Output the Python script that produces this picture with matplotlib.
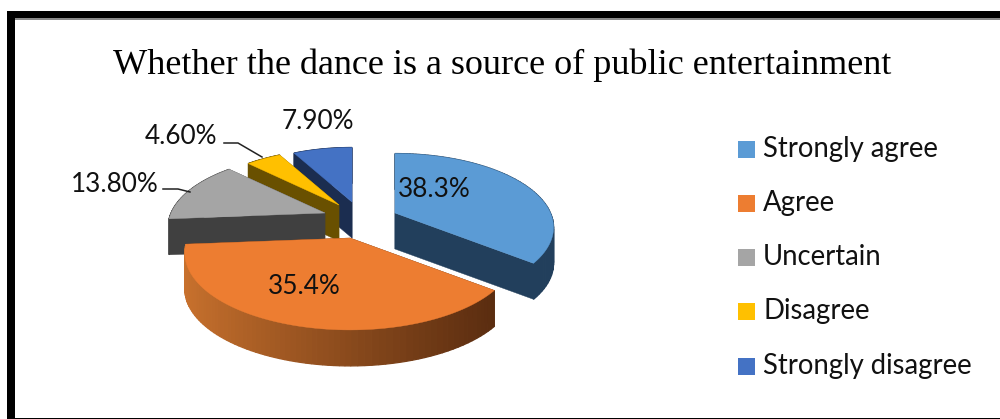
"""
Exploded 3D-style pie: whether the dance is a source of public entertainment
"""
import numpy as np
import matplotlib
matplotlib.use('Agg')
import matplotlib.pyplot as plt
from matplotlib.patches import Polygon, Rectangle
from matplotlib.colors import to_rgb

categories = ['Strongly agree', 'Agree', 'Uncertain', 'Disagree', 'Strongly disagree']
values = [38.3, 35.4, 13.8, 4.6, 7.9]
value_labels = ['38.3%', '35.4%', '13.80%', '4.60%', '7.90%']
top_colors = ['#5B9BD5', '#ED7D31', '#A5A5A5', '#FFC000', '#4472C4']
wall_colors = ['#223F5C', '#5B2D10', '#404040', '#695000', '#1B2D50']

# where each exploded slice has its tip, and a radius tweak per slice
tips = [(395, 213), (350, 238), (325, 213), (339, 205), (352, 202)]
radius_scale = [0.96, 1.0, 0.95, 0.9, 0.88]
label_pos = [(434, 189), (304, 286), (115, 184), (181, 136), (318, 121)]
legend_y = [149, 203, 257, 311, 366]

RX = 162
RY = 74
PERSP = 0.195
DEPTH = 36
SKEW = 14


def project(tip, theta, scale=1.0):
    """Angle in degrees clockwise from the back of the pie to a point on the rim."""
    rad = np.radians(theta)
    # the right half of the pie leans towards the back
    t = np.radians(theta - np.where(theta < 180, SKEW * np.sin(rad), 0))
    d = 1 + PERSP * np.cos(t)
    return (tip[0] + scale * RX * np.sin(t) / d,
            tip[1] - scale * RY * np.cos(t) / d)


def draw_slice(ax, i, start, end):
    tip = tips[i]
    angles = np.linspace(start, end, 80)
    x, y = project(tip, angles, radius_scale[i])
    wall = wall_colors[i]

    # cut faces
    for j in (0, -1):
        quad = [tip, (x[j], y[j]), (x[j], y[j] + DEPTH), (tip[0], tip[1] + DEPTH)]
        ax.add_patch(Polygon(quad, closed=True, fc=wall, ec=wall, lw=0.3))

    # rim, the orange one fades from left to right
    for j in range(len(x) - 1):
        c = wall
        if i == 1:
            f = (x[j] - x.min()) / (x.max() - x.min())
            left = np.array(to_rgb('#C8712D'))
            right = np.array(to_rgb('#5B2D10'))
            c = tuple(left + (right - left) * f ** 0.9)
        quad = [(x[j], y[j]), (x[j + 1], y[j + 1]),
                (x[j + 1], y[j + 1] + DEPTH), (x[j], y[j] + DEPTH)]
        ax.add_patch(Polygon(quad, closed=True, fc=c, ec=c, lw=0.9))

    pts = [tip] + list(zip(x, y))
    ax.add_patch(Polygon(pts, closed=True, fc=top_colors[i], ec=top_colors[i], lw=0.3))


def main():
    fig = plt.figure(figsize=(10, 4.19), dpi=100)
    ax = fig.add_axes([0, 0, 1, 1])
    ax.set_xlim(0, 1000)
    ax.set_ylim(419, 0)
    ax.axis('off')

    # frame
    ax.add_patch(Rectangle((7, 11), 993, 7, fc='black', ec='none'))
    ax.add_patch(Rectangle((15, 18.5), 985, 2, fc='#8a8a8a', ec='none'))
    ax.add_patch(Rectangle((7, 11), 8, 408, fc='black', ec='none'))
    ax.add_patch(Rectangle((7, 417.5), 993, 1.5, fc='black', ec='none'))

    ax.text(502, 65, 'Whether the dance is a source of public entertainment',
            family='Liberation Serif', fontsize=26, ha='center', va='center',
            color='black')

    edges = np.concatenate([[0], np.cumsum(values)]) / sum(values) * 360

    # back slices first so the front ones paint over them
    for i in [4, 3, 2, 0, 1]:
        draw_slice(ax, i, edges[i], edges[i + 1])

    # leader lines
    ax.plot([224, 238, 262], [143, 143, 157], color='#222222', lw=1.1)
    ax.plot([163, 178, 190], [189, 189, 192], color='#222222', lw=1.1)

    for label, (lx, ly) in zip(value_labels, label_pos):
        ax.text(lx, ly, label, family='Lato', fontsize=18.8, ha='center', va='center',
                color='#111111')

    for name, c, ly in zip(categories, top_colors, legend_y):
        ax.add_patch(Rectangle((738, ly - 8.5), 17, 17, fc=c, ec='none'))
        ax.text(763, ly, name, family='Lato', fontsize=19.8, ha='left', va='center',
                color='#111111')

    fig.savefig('out.png', dpi=100)
    plt.close(fig)


if __name__ == "__main__":
    main()
